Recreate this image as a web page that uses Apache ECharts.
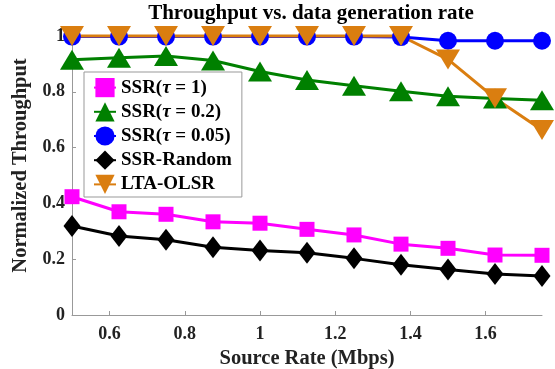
<!DOCTYPE html>
<html>
<head>
<meta charset="utf-8">
<script src="https://cdn.jsdelivr.net/npm/echarts@6/dist/echarts.min.js"></script>
<style>html,body{margin:0;padding:0;background:#fff}#c{width:555px;height:369px}</style>
</head>
<body>
<div id="c"></div>
<script>
const sourceRate = [0.5, 0.625, 0.75, 0.875, 1.0, 1.125, 1.25, 1.375, 1.5, 1.625, 1.75];
const ssrTau1 = [0.424, 0.370, 0.361, 0.334, 0.329, 0.307, 0.287, 0.254, 0.239, 0.215, 0.214];
const ssrTau02 = [0.915, 0.922, 0.928, 0.912, 0.873, 0.842, 0.822, 0.802, 0.784, 0.776, 0.770];
const ssrTau005 = [0.998, 0.998, 0.998, 0.998, 0.998, 0.998, 0.998, 0.996, 0.983, 0.983, 0.983];
const ssrRandom = [0.319, 0.283, 0.270, 0.243, 0.231, 0.223, 0.203, 0.180, 0.163, 0.147, 0.140];
const ltaOlsr = [1.0, 1.0, 1.0, 1.0, 1.0, 1.0, 1.0, 1.0, 0.916, 0.777, 0.663];
const xTicks = [0.6, 0.8, 1.0, 1.2, 1.4, 1.6];
const seriesNames = ['SSR(τ = 1)', 'SSR(τ = 0.2)', 'SSR(τ = 0.05)', 'SSR-Random', 'LTA-OLSR'];

const font = '"Liberation Serif", "DejaVu Serif", serif';
function pairs(ys){ return sourceRate.map((x,i)=>[x, ys[i]]); }
function mk(name, ys, color, symbol, size){
  return {
    name, type:'line', data: pairs(ys), clip:false,
    symbol, symbolSize:size, showAllSymbol:true,
    lineStyle:{color, width:3}, itemStyle:{color, borderWidth:0},
    emphasis:{disabled:true}, animation:false
  };
}
const chart = echarts.init(document.getElementById('c'), null, {renderer:'canvas'});
chart.setOption({
  animation:false,
  backgroundColor:'#fff',
  title:{
    text:'Throughput vs. data generation rate',
    left:306, top:-2, textAlign:'center',
    textStyle:{fontFamily:font, fontWeight:'bold', fontSize:21, color:'#000'}
  },
  grid:{left:72, right:13, top:36, bottom:54, containLabel:false, outerBoundsMode:'none'},
  xAxis:{
    type:'value', min:0.5, max:1.75,
    name:'Source Rate (Mbps)', nameLocation:'middle', nameGap:31,
    nameTextStyle:{fontFamily:font, fontWeight:'bold', fontSize:20.5, color:'#222'},
    axisLine:{lineStyle:{color:'#999', width:1}},
    axisTick:{show:true, inside:true, length:4, customValues:xTicks, lineStyle:{color:'#999'}},
    axisLabel:{customValues:xTicks, fontFamily:font, fontWeight:'bold', fontSize:18, color:'#222', margin:10,
      formatter:v=>String(Math.round(v*10)/10)},
    splitLine:{show:false}
  },
  yAxis:{
    type:'value', min:0, max:1, interval:0.2,
    name:'Normalized Throughput', nameLocation:'middle', nameGap:36,
    nameTextStyle:{fontFamily:font, fontWeight:'bold', fontSize:20.5, color:'#222', padding:[0,0,0,20]},
    axisLine:{show:true, lineStyle:{color:'#999', width:1}},
    axisTick:{show:true, inside:true, length:4, lineStyle:{color:'#999'}},
    axisLabel:{fontFamily:font, fontWeight:'bold', fontSize:18, color:'#222', margin:7,
      formatter:v=>String(Math.round(v*10)/10)},
    splitLine:{show:false}
  },
  legend:{
    left:84, top:72, orient:'vertical',
    data:seriesNames,
    backgroundColor:'#fff', borderColor:'#999', borderWidth:1,
    padding:[6,10,3,9], itemGap:5, itemWidth:22, itemHeight:24,
    textStyle:{fontFamily:font, fontWeight:'bold', fontSize:19, color:'#000',
      rich:{
        a:{fontFamily:font, fontWeight:'bold', fontSize:19, color:'#000'},
        i:{fontFamily:font, fontWeight:'bold', fontStyle:'italic', fontSize:19, color:'#000'}
      }},
    formatter:function(name){
      const idx = name.indexOf('τ');
      if(idx<0) return '{a|'+name+'}';
      return '{a|'+name.slice(0,idx)+'}{i|τ}{a|'+name.slice(idx+1)+'}';
    }
  },
  series:[
    mk(seriesNames[0], ssrTau1, '#FF00FF', 'rect', 15),
    mk(seriesNames[1], ssrTau02, '#008000', 'triangle', [24,20]),
    mk(seriesNames[2], ssrTau005, '#0000FF', 'circle', 18),
    mk(seriesNames[3], ssrRandom, '#000000', 'diamond', [17,22]),
    Object.assign(mk(seriesNames[4], ltaOlsr, '#DA7E10', 'triangle', [24,20]), {symbolRotate:180})
  ]
});
</script>
</body>
</html>
